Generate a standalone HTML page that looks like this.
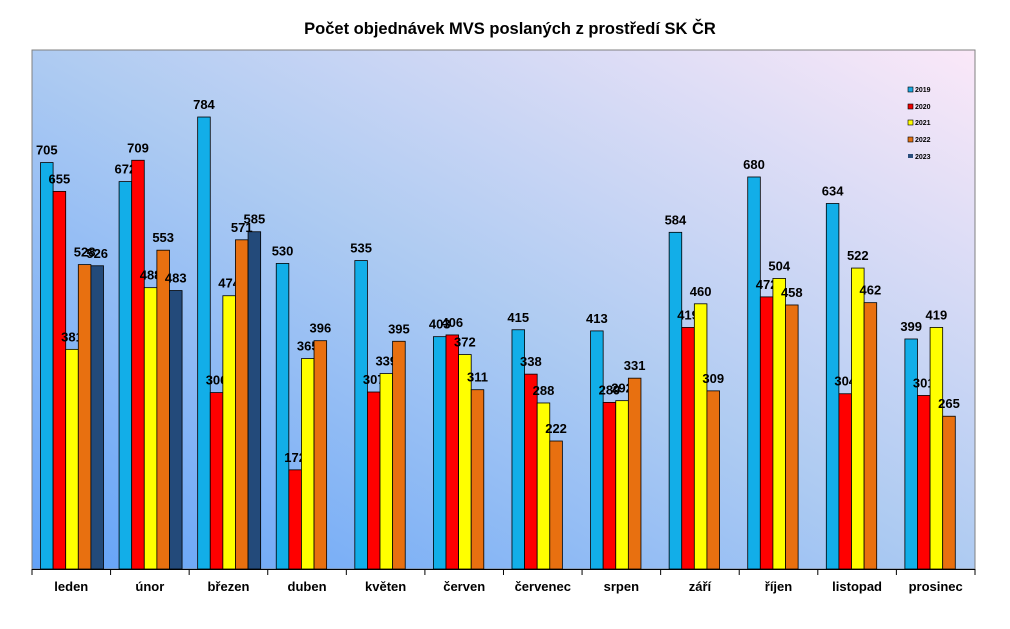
<!DOCTYPE html>
<html><head><meta charset="utf-8"><style>
body{margin:0;background:#fff;}
text{font-family:"Liberation Sans",sans-serif;font-weight:bold;}
</style></head><body>
<svg width="1010" height="624" xmlns="http://www.w3.org/2000/svg">
<defs><linearGradient id="bg" x1="0" y1="1" x2="1" y2="0">
<stop offset="0" stop-color="#62a2f8"/><stop offset="0.5" stop-color="#aecbf2"/><stop offset="1" stop-color="#fbe8f8"/></linearGradient></defs>
<text x="510" y="34" font-size="16.5" text-anchor="middle">Počet objednávek MVS poslaných z prostředí SK ČR</text>
<rect x="32" y="50" width="943" height="519" fill="url(#bg)" stroke="#808080" stroke-width="1"/>
<g id="bars"></g>
<line x1="32" y1="569.5" x2="975" y2="569.5" stroke="#000"/>
<g id="lg" font-size="7">
<rect x="908" y="87" width="5" height="5" fill="#1aa7e0" stroke="#000" stroke-width="0.6"/><text x="915" y="92">2019</text>
<rect x="908" y="104" width="5" height="5" fill="#e00" stroke="#000" stroke-width="0.6"/><text x="915" y="109">2020</text>
<rect x="908" y="120" width="5" height="5" fill="#ff0" stroke="#000" stroke-width="0.6"/><text x="915" y="125">2021</text>
<rect x="908" y="137" width="5" height="5" fill="#e07010" stroke="#000" stroke-width="0.6"/><text x="915" y="142">2022</text>
<rect x="908" y="154" width="5" height="4" fill="#2a4e7c"/><text x="915" y="159">2023</text>
</g>
</svg>
<script>
var d=[["leden",705,655,381,528,526],["únor",672,709,488,553,483],["březen",784,306,474,571,585],["duben",530,172,365,396],["květen",535,307,339,395],["červen",403,406,372,311],["červenec",415,338,288,222],["srpen",413,289,292,331],["září",584,419,460,309],["říjen",680,472,504,458],["listopad",634,304,522,462],["prosinec",399,301,419,265]];
var c=["#12aee8","#f00","#ff0","#e87010","#234a7a"];
var s="",w=78.58,bw=12.6,k=0.5765;
d.forEach(function(r,i){var x0=32+w*i;
s+='<line x1="'+x0+'" y1="569" x2="'+x0+'" y2="575" stroke="#000"/>';
s+='<text x="'+(x0+w/2)+'" y="591" font-size="13" text-anchor="middle">'+r[0]+'</text>';
for(var j=1;j<r.length;j++){var bx=x0+8.5+(j-1)*bw,h=r[j]*k,y=569-h;
s+='<rect x="'+bx+'" y="'+y+'" width="'+bw+'" height="'+h+'" fill="'+c[j-1]+'" stroke="#000" stroke-width="0.8"/>';
s+='<text x="'+(bx+bw/2)+'" y="'+(y-8)+'" font-size="13" text-anchor="middle">'+r[j]+'</text>';}
});
s+='<line x1="975" y1="569" x2="975" y2="575" stroke="#000"/>';
document.getElementById("bars").innerHTML=s;
</script>
</body></html>
